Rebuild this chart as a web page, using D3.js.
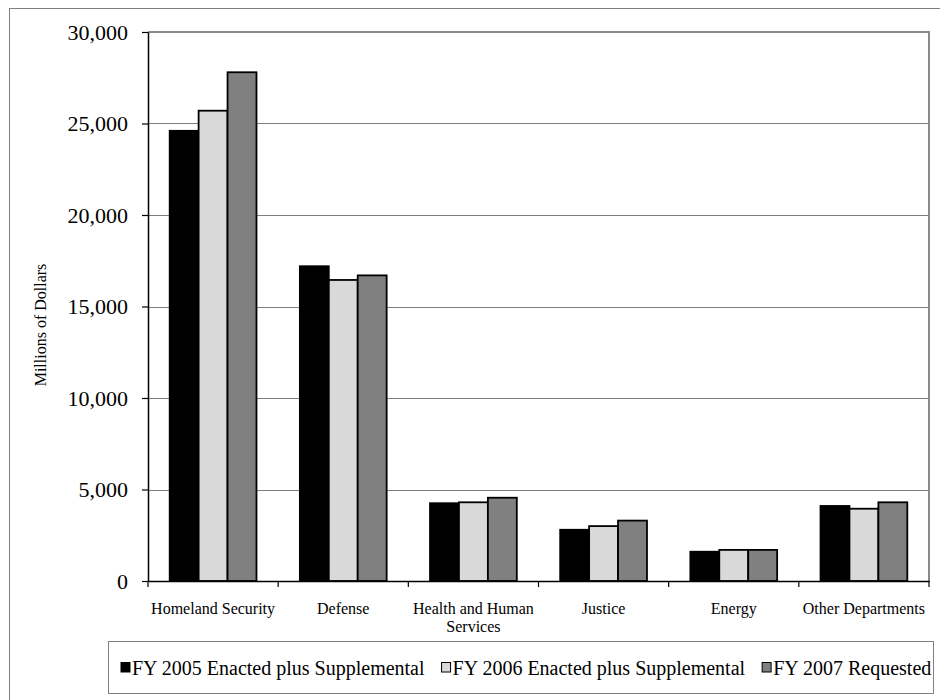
<!DOCTYPE html>
<html>
<head>
<meta charset="utf-8">
<script src="https://cdn.jsdelivr.net/npm/d3@7"></script>
<style>
  html, body { margin: 0; padding: 0; background: #fff; }
  svg { display: block; }
  text { font-family: "Liberation Serif", "Times New Roman", serif; fill: #000; }
</style>
</head>
<body>
<svg id="chart" width="940" height="700"></svg>
<script>
// ---- data ----
const categories = ["Homeland Security", "Defense", "Health and Human Services", "Justice", "Energy", "Other Departments"];
const seriesNames = ["FY 2005 Enacted plus Supplemental", "FY 2006 Enacted plus Supplemental", "FY 2007 Requested"];
const fy2005 = [24600, 17200, 4250, 2800, 1600, 4100];
const fy2006 = [25700, 16450, 4300, 3000, 1700, 3950];
const fy2007 = [27800, 16700, 4550, 3300, 1700, 4300];
const yTicks = [0, 5000, 10000, 15000, 20000, 25000, 30000];
const seriesColors = ["#000000", "#d9d9d9", "#808080"];

const seriesValues = [fy2005, fy2006, fy2007];

const svg = d3.select("#chart");
const plot = { left: 148, right: 929, top: 32, bottom: 581 };

// outer frame
svg.append("rect")
  .attr("x", 9.5).attr("y", 8.5)
  .attr("width", 960).attr("height", 720)
  .attr("fill", "none").attr("stroke", "#808080").attr("stroke-width", 1);

const x = d3.scaleBand().domain(categories).range([plot.left, plot.right]).paddingInner(0).paddingOuter(0);
const xs = d3.scaleBand().domain(d3.range(seriesNames.length))
  .range([x.bandwidth() / 6, x.bandwidth() * 5 / 6]).padding(0);
const y = d3.scaleLinear().domain([0, 30000]).range([plot.bottom, plot.top]);

// gridlines
svg.append("g").selectAll("line")
  .data(yTicks.filter(d => d > 0 && d < 30000))
  .join("line")
  .attr("x1", plot.left).attr("x2", plot.right)
  .attr("y1", d => Math.round(y(d)) + 0.5).attr("y2", d => Math.round(y(d)) + 0.5)
  .attr("stroke", "#808080").attr("stroke-width", 1.2);

// top & right plot border
svg.append("line").attr("x1", plot.left).attr("x2", plot.right + 1)
  .attr("y1", y(30000)).attr("y2", y(30000))
  .attr("stroke", "#8a8a8a").attr("stroke-width", 2);
svg.append("line").attr("x1", plot.right).attr("x2", plot.right)
  .attr("y1", y(30000)).attr("y2", plot.bottom)
  .attr("stroke", "#8a8a8a").attr("stroke-width", 2);

// bars
const groups = svg.append("g").selectAll("g")
  .data(categories)
  .join("g")
  .attr("transform", d => `translate(${x(d)},0)`);

groups.selectAll("rect")
  .data((d, i) => seriesValues.map((s, j) => ({ j, v: s[i] })))
  .join("rect")
  .attr("x", d => xs(d.j))
  .attr("width", xs.bandwidth())
  .attr("y", d => y(d.v))
  .attr("height", d => y(0) - y(d.v))
  .attr("fill", d => seriesColors[d.j])
  .attr("stroke", "#000")
  .attr("stroke-width", 1.8);

// y axis
const yAxis = d3.axisLeft(y).tickValues(yTicks).tickFormat(d3.format(",")).tickSize(6).tickSizeOuter(0).tickPadding(14);
const gy = svg.append("g").attr("transform", `translate(${plot.left},0)`).call(yAxis);
gy.select(".domain").attr("stroke", "#000").attr("stroke-width", 1.5);
gy.selectAll(".tick line").attr("stroke", "#000").attr("stroke-width", 1.2);
gy.selectAll(".tick text")
  .style("font-family", '"Liberation Serif", "Times New Roman", serif')
  .style("font-size", "22px").attr("fill", "#000");

// x axis line
const xAxis = d3.axisBottom(x).tickSize(0).tickSizeOuter(0).tickFormat("");
const gx = svg.append("g").attr("transform", `translate(0,${plot.bottom})`).call(xAxis);
gx.select(".domain").attr("stroke", "#000").attr("stroke-width", 1.5);

// x ticks at category boundaries
const boundaries = categories.map(c => x(c)).concat([x(categories[categories.length - 1]) + x.bandwidth()]);
svg.append("g").selectAll("line")
  .data(boundaries)
  .join("line")
  .attr("x1", d => d).attr("x2", d => d)
  .attr("y1", plot.bottom).attr("y2", plot.bottom + 6)
  .attr("stroke", "#000").attr("stroke-width", 1.2);

// category labels with wrap
const catLabels = svg.append("g").selectAll("text")
  .data(categories)
  .join("text")
  .attr("x", d => x(d) + x.bandwidth() / 2)
  .attr("y", 614)
  .attr("text-anchor", "middle")
  .style("font-size", "16px");

catLabels.each(function(d) {
  const t = d3.select(this);
  const words = d.split(" ");
  const maxW = x.bandwidth() - 4;
  let line = [];
  let lines = [];
  const probe = t.append("tspan");
  words.forEach(w => {
    const test = line.concat([w]).join(" ");
    probe.text(test);
    if (probe.node().getComputedTextLength() > maxW && line.length) {
      lines.push(line.join(" "));
      line = [w];
    } else {
      line.push(w);
    }
  });
  lines.push(line.join(" "));
  probe.remove();
  lines.forEach((l, k) => {
    t.append("tspan")
      .attr("x", x(d) + x.bandwidth() / 2)
      .attr("dy", k === 0 ? 0 : 17.5)
      .text(l);
  });
});

// y axis title
svg.append("text")
  .attr("transform", `translate(46,325) rotate(-90)`)
  .attr("text-anchor", "middle")
  .style("font-size", "16px")
  .text("Millions of Dollars");

// legend
const legendBox = { x: 108.5, y: 641.5, w: 825, h: 52 };
svg.append("rect")
  .attr("x", legendBox.x).attr("y", legendBox.y)
  .attr("width", legendBox.w).attr("height", legendBox.h)
  .attr("fill", "#fff").attr("stroke", "#808080").attr("stroke-width", 1);

const lg = svg.append("g");
let cursor = 121;
const gap = 17;
seriesNames.forEach((name, j) => {
  lg.append("rect")
    .attr("x", cursor).attr("y", 662.5)
    .attr("width", 9).attr("height", 9.5)
    .attr("fill", seriesColors[j])
    .attr("stroke", "#000").attr("stroke-width", 1);
  const t = lg.append("text")
    .attr("x", cursor + 11).attr("y", 675)
    .style("font-size", "20px")
    .text(name);
  cursor = cursor + 11 + t.node().getComputedTextLength() + gap;
});
</script>
</body>
</html>
